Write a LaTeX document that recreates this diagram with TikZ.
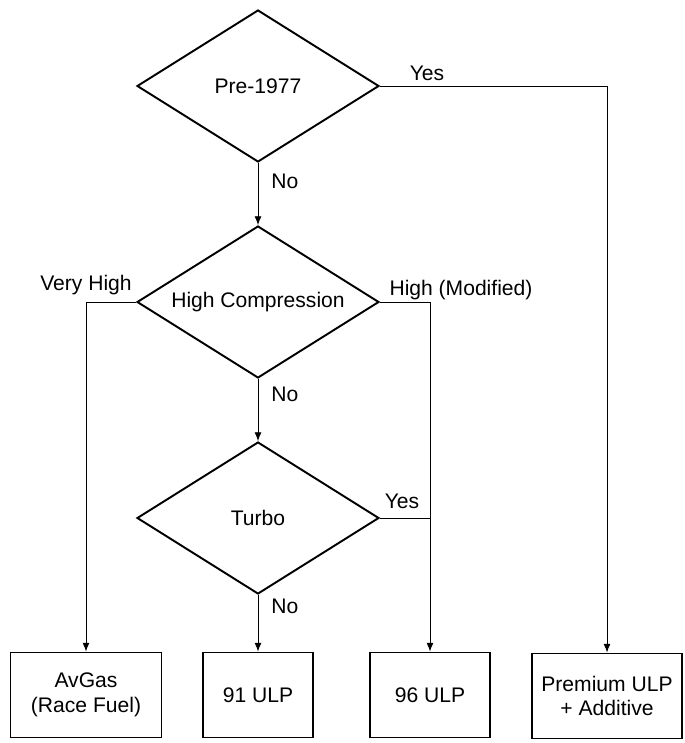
\documentclass[tikz,border=0pt]{standalone}
\usepackage{fontspec}
\setmainfont{Liberation Sans}
\usetikzlibrary{shapes.geometric, arrows.meta, positioning}

\begin{document}
\begin{tikzpicture}[
    x=0.02cm, y=-0.02cm,
    font=\fontsize{12}{14}\selectfont,
    decision/.style={diamond, draw, line width=1.1pt, aspect=1.6, inner sep=0pt, minimum width=4.84cm, minimum height=3.04cm, text centered},
    fuel/.style={rectangle, draw, line width=1.1pt, minimum height=1.7cm, text centered, align=center},
    arrow/.style={-{Latex[length=5pt, width=4pt]}, line width=0.5pt},
    link/.style={line width=0.5pt}
]
\useasboundingbox (0,0) rectangle (684,743);

% Decisions
\node[decision] (pre) at (258,86) {Pre-1977};
\node[decision] (comp) at (258,302) {High Compression};
\node[decision] (turbo) at (258,518) {Turbo};

% Fuels
\node[fuel, minimum width=3.02cm] (avgas) at (86,695) {AvGas\\(Race Fuel)};
\node[fuel, minimum width=2.2cm] (ulp91) at (258,695) {91 ULP};
\node[fuel, minimum width=2.4cm] (ulp96) at (430,695) {96 ULP};
\node[fuel, minimum width=3.0cm] (prem) at (607,696) {Premium ULP\\+ Additive};

% Connections
\draw[arrow] (pre.south) -- node[right=4pt, pos=0.3] (no1) {No} (comp.north);
\draw[arrow] (comp.south) -- node[right=4pt, pos=0.25] (no2) {No} (turbo.north);
\draw[arrow] (turbo.south) -- node[right=4pt, pos=0.2] (no3) {No} (ulp91.north);

\draw[arrow] (pre.east) -| (prem.north);
\draw[arrow] (comp.west) -| (avgas.north);
\draw[arrow] (comp.east) -| (ulp96.north);
\draw[link] (turbo.east) -- (turbo.east -| ulp96.north);

% Labels
\node (yes1) at (427,73) {Yes};
\node (vhigh) at (86,285) {Very High};
\node (hmod) at (461,290) {High (Modified)};
\node (yes2) at (402,501) {Yes};

\end{tikzpicture}
\end{document}
